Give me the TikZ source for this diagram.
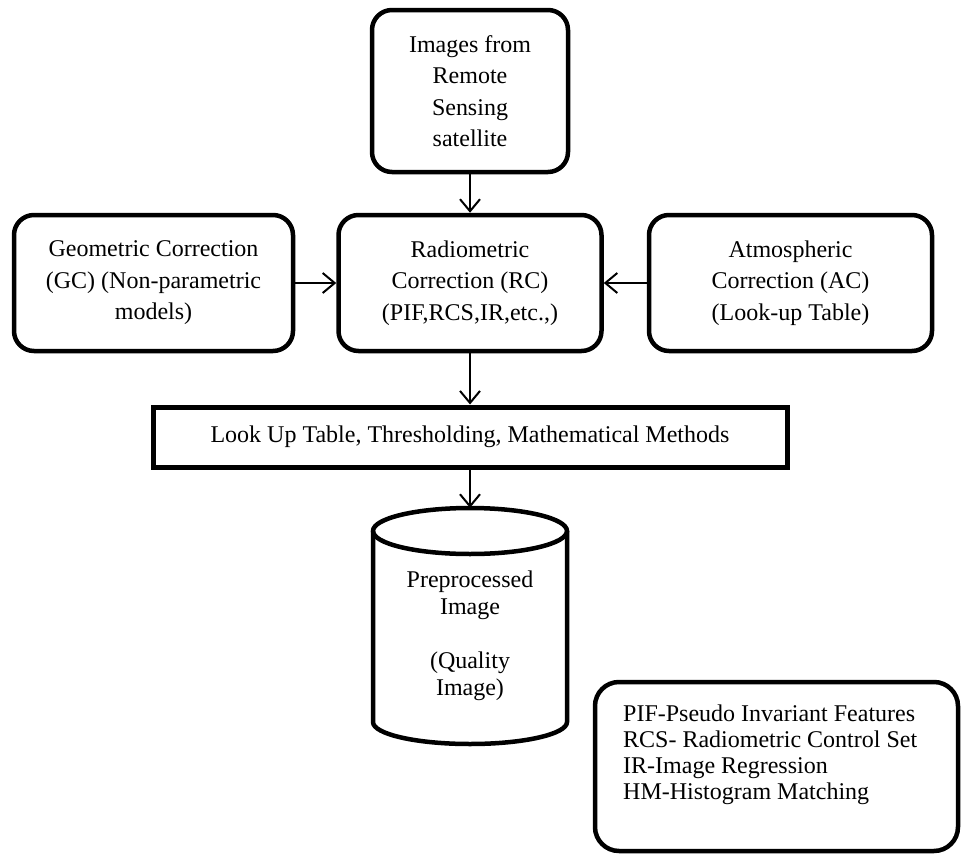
\documentclass[tikz,border=0pt]{standalone}
\usepackage{fontspec}
\setmainfont{Liberation Serif}
\usetikzlibrary{arrows.meta}
\begin{document}
\begin{tikzpicture}[x=1pt,y=-1pt,
  every node/.style={font=\fontsize{24}{31.5}\selectfont, inner sep=0pt, align=center},
  rbox/.style={draw, line width=4.5pt, rounded corners=20pt},
  sbox/.style={draw, line width=5pt},
  conn/.style={line width=2pt, -{Straight Barb[length=12pt,width=20pt,line width=2pt]}},
  cylline/.style={line width=4.5pt}]
\useasboundingbox (0,0) rectangle (962,854);
% boxes
\node[rbox, minimum width=196pt, minimum height=162pt] (top) at (470,91) {Images from\\Remote\\Sensing\\satellite};
\node[rbox, minimum width=263pt, minimum height=136pt] (mid) at (470,283) {Radiometric\\Correction (RC)\\(PIF,RCS,IR,etc.,)};
\node[rbox, minimum width=279pt, minimum height=136pt] (left) at (153.5,283) {Geometric Correction\\(GC) (Non-parametric\\models)};
\node[rbox, minimum width=283pt, minimum height=136pt] (right) at (790.5,283) {Atmospheric\\Correction (AC)\\(Look-up Table)};
\node[sbox, minimum width=634pt, minimum height=60pt] (rect) at (470,437) {Look Up Table, Thresholding, Mathematical Methods};
% cylinder
\node[minimum width=194pt, minimum height=236pt] (cyl) at (470,626) {};
\draw[cylline] (470,531) ellipse [x radius=97pt, y radius=23pt];
\draw[cylline] (373,531) -- (373,722) arc[start angle=180, end angle=360, x radius=97pt, y radius=22pt] -- (567,531);
\node[font=\fontsize{24}{27}\selectfont] (cyltext) at (470,636) {Preprocessed\\Image\\[27pt](Quality\\Image)};
% legend
\node[rbox, rounded corners=24pt, minimum width=363pt, minimum height=169pt] (legend) at (776.5,766.5) {};
\node[anchor=north west, align=left, font=\fontsize{24}{26}\selectfont] (legtext) at (623,705) {PIF-Pseudo Invariant Features\\RCS- Radiometric Control Set\\IR-Image Regression\\HM-Histogram Matching};
% connectors
\draw[conn] (top) -- (mid);
\draw[conn] (left) -- (mid);
\draw[conn] (right) -- (mid);
\draw[conn] (mid) -- (rect);
\draw[conn] (rect) -- (cyl);
\end{tikzpicture}
\end{document}
